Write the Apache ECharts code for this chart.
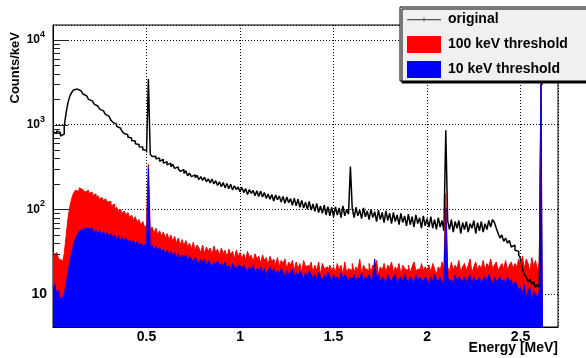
<!DOCTYPE html>
<html>
<head>
<meta charset="utf-8">
<script src="https://cdn.jsdelivr.net/npm/echarts@6/dist/echarts.min.js"></script>
<style>html,body{margin:0;padding:0;background:#fff}#c{width:586px;height:358px}</style>
</head>
<body>
<div id="c"></div>
<script>
// Histogram bin width in MeV (bin i spans [i*BIN, (i+1)*BIN])
const BIN = 0.01;
const seriesNames = ['original', '100 keV threshold', '10 keV threshold'];

// Counts/keV per 10 keV bin, 0.00 .. 2.61 MeV
const original = [
 820, 790, 845, 805, 735, 775, 960, 1380, 1820, 2170,
 2400, 2560, 2630, 2590, 2510, 2410, 2300, 2190, 2080, 1990,
 1910, 1810, 1750, 1660, 1590, 1525, 1455, 1385, 1325, 1255,
 1195, 1125, 1065, 1015, 955, 915, 870, 830, 785, 760,
 715, 695, 650, 640, 595, 585, 550, 545, 505, 500,
 470, 3450, 450, 420, 425, 395, 405, 370, 390, 352,
 365, 335, 352, 318, 340, 305, 318, 300, 282, 295,
 265, 285, 250, 268, 244, 256, 236, 252, 225, 244,
 220, 240, 212, 230, 205, 228, 200, 218, 192, 212,
 185, 208, 180, 202, 176, 198, 170, 190, 172, 184,
 162, 182, 158, 176, 150, 172, 155, 168, 145, 166,
 142, 164, 140, 158, 135, 152, 132, 150, 126, 148,
 130, 144, 122, 142, 118, 140, 120, 134, 112, 136,
 110, 132, 106, 128, 104, 122, 100, 124, 98, 116,
 95, 118, 92, 110, 90, 112, 86, 108, 84, 106,
 82, 108, 86, 104, 80, 110, 84, 100, 88, 320,
 102, 80, 106, 84, 98, 78, 104, 82, 96, 76,
 100, 80, 94, 72, 98, 76, 92, 70, 96, 74,
 90, 68, 92, 72, 86, 66, 90, 70, 84, 64,
 88, 66, 82, 62, 86, 68, 80, 60, 84, 64,
 78, 62, 82, 60, 76, 58, 80, 62, 74, 56,
 860, 74, 58, 76, 54, 72, 60, 74, 52, 70,
 58, 72, 54, 68, 60, 74, 52, 70, 56, 72,
 54, 68, 58, 74, 62, 76, 70, 60, 52, 46,
 50, 42, 46, 40, 43, 36, 38, 33, 32, 29,
 26, 20, 17, 16, 14, 15, 13, 14, 12, 13,
 12, 3000
];

const thr100 = [
 32, 29, 31, 26, 25, 23, 30, 48, 78, 108,
 135, 156, 168, 164, 180, 171, 176, 160, 168, 154,
 160, 146, 152, 138, 146, 130, 140, 126, 134, 122,
 124, 110, 116, 100, 106, 95, 101, 90, 96, 86,
 92, 80, 86, 74, 82, 70, 76, 65, 72, 61,
 66, 340, 58, 62, 52, 60, 50, 56, 48, 54,
 46, 52, 44, 50, 42, 48, 40, 46, 38, 44,
 37, 43, 36, 40, 34, 41, 33, 38, 35, 31,
 38, 30, 36, 32, 35, 29, 37, 31, 34, 28,
 35, 30, 33, 27, 34, 29, 32, 26, 33, 28,
 31, 26, 30, 25, 32, 27, 29, 24, 30, 26,
 28, 23, 29, 25, 27, 22, 28, 24, 26, 22,
 27, 21, 25, 23, 26, 20, 24, 22, 25, 19,
 24, 20, 23, 18, 25, 21, 22, 19, 24, 18,
 22, 19, 24, 17, 23, 20, 21, 18, 22, 19,
 21, 18, 23, 19, 22, 17, 24, 18, 20, 19,
 23, 18, 21, 19, 26, 17, 22, 20, 19, 23,
 18, 22, 20, 25, 17, 21, 19, 23, 18, 22,
 20, 24, 18, 21, 19, 23, 17, 22, 20, 19,
 22, 18, 21, 24, 19, 20, 17, 23, 19, 21,
 19, 22, 18, 23, 20, 17, 21, 19, 24, 20,
 155, 21, 18, 24, 19, 22, 20, 25, 18, 21,
 23, 19, 22, 26, 18, 21, 24, 19, 22, 20,
 25, 19, 23, 21, 26, 20, 22, 24, 19, 21,
 23, 20, 25, 19, 22, 24, 20, 23, 21, 26,
 22, 28, 20, 26, 23, 18, 27, 21, 25, 19,
 24, 3000
];

const thr10 = [
 12, 13, 10, 11, 8.5, 9, 10, 13, 18, 24,
 31, 38, 45, 50, 55, 58, 56, 60, 57, 59,
 55, 60, 53, 57, 52, 56, 50, 55, 49, 53,
 47, 52, 46, 50, 44, 49, 43, 47, 42, 46,
 41, 44, 40, 43, 38, 42, 37, 40, 36, 39,
 35, 313, 34, 38, 33, 37, 32, 36, 31, 34,
 30, 33, 29, 32, 28, 31, 27, 30, 26, 29,
 27, 29, 25, 28, 26, 24, 27, 25, 23, 26,
 24, 26, 22, 25, 23, 21, 24, 22, 25, 21,
 23, 21, 24, 20, 22, 19, 23, 21, 20, 22,
 21, 19, 22, 20, 18, 21, 19, 22, 18, 20,
 19, 21, 18, 20, 17, 19, 21, 18, 20, 17,
 19, 17, 20, 18, 16, 19, 17, 18, 20, 16,
 18, 16, 19, 17, 15, 18, 16, 19, 17, 15,
 17, 15, 18, 16, 14, 17, 15, 18, 16, 14,
 17, 15, 16, 14, 18, 15, 17, 16, 14, 16,
 15, 17, 14, 16, 15, 18, 14, 16, 15, 17,
 14, 16, 26, 15, 17, 14, 16, 15, 13, 17,
 15, 14, 16, 17, 13, 15, 16, 14, 17, 15,
 14, 16, 15, 13, 17, 14, 16, 15, 14, 16,
 15, 13, 16, 14, 17, 15, 14, 16, 13, 15,
 103, 16, 14, 15, 13, 17, 14, 16, 15, 14,
 16, 14, 15, 17, 13, 16, 14, 15, 16, 13,
 15, 16, 14, 17, 15, 13, 16, 14, 15, 16,
 14, 15, 13, 16, 14, 15, 12, 14, 13, 11,
 12, 10, 13, 9, 11, 12, 8, 11, 10, 9,
 11, 12000
];

// axis tick definitions
const xTickLabels = ['0.5', '1', '1.5', '2', '2.5'];
const yMajorTicks = [100, 1000, 10000];
const yMinorTicks = [30, 40, 50, 60, 70, 80, 90,
  200, 300, 400, 500, 600, 700, 800, 900, 2000, 3000, 4000, 5000, 6000, 7000, 8000, 9000];

const FONT = '"Liberation Sans", Arial, Helvetica, sans-serif';

function toSteps(vals) {
  const pts = vals.map((v, i) => [+(i * BIN).toFixed(4), v]);
  pts.push([+(vals.length * BIN).toFixed(4), vals[vals.length - 1]]);
  return pts;
}

const chart = echarts.init(document.getElementById('c'), null, {renderer: 'canvas'});
chart.setOption({
  animation: false,
  backgroundColor: '#fff',
  grid: {left: 53, right: 28, top: 25, bottom: 31, show: true, borderColor: '#000', borderWidth: 1,
         containLabel: false, outerBoundsMode: 'none'},
  xAxis: {
    type: 'value', min: 0, max: 2.7, interval: 0.5,
    axisLine: {lineStyle: {color: '#000', width: 1}},
    axisTick: {show: false},
    splitLine: {show: true, lineStyle: {color: '#000', type: [1, 2], width: 1}},
    axisLabel: {
      margin: 3, color: '#000', fontFamily: FONT, fontWeight: 'bold', fontSize: 14,
      showMinLabel: false, showMaxLabel: false,
      formatter: v => { const s = String(+v.toFixed(2)); return xTickLabels.indexOf(s) >= 0 ? s : ''; }
    }
  },
  yAxis: {
    type: 'log', logBase: 10, min: 4.1, max: 15000,
    axisLine: {show: true, lineStyle: {color: '#000', width: 1}},
    axisTick: {show: false},
    splitLine: {show: true, lineStyle: {color: '#000', type: [1, 2], width: 1}},
    axisLabel: {
      margin: 6, color: '#000', fontFamily: FONT, fontWeight: 'bold',
      showMinLabel: false, showMaxLabel: false,
      formatter: v => {
        const k = Math.round(Math.log10(v));
        if (Math.abs(v - Math.pow(10, k)) > 1e-6 * v) return '';
        if (k === 1) return '{p|10}';
        return '{b|10}{s|' + k + '}';
      },
      rich: {
        p: {fontSize: 14, fontWeight: 'bold', fontFamily: FONT, color: '#000'},
        b: {fontSize: 12, fontWeight: 'bold', fontFamily: FONT, color: '#000', lineHeight: 20},
        s: {fontSize: 9, fontWeight: 'bold', fontFamily: FONT, color: '#000', verticalAlign: 'top', padding: [0, 2, 0, 0]}
      }
    }
  },
  legend: {
    orient: 'vertical', left: 400, top: 7, itemWidth: 34, itemHeight: 17, itemGap: 8,
    padding: [4, 40, 3, 7], backgroundColor: '#f0f0f0', borderColor: '#000', borderWidth: 1,
    shadowColor: '#000', shadowOffsetX: 2, shadowOffsetY: 2, shadowBlur: 0,
    selectedMode: false,
    textStyle: {fontFamily: FONT, fontWeight: 'bold', fontSize: 14, color: '#000', padding: [0, 0, 0, 2]},
    data: [
      {name: seriesNames[0], icon: 'path://M0,0L0.01,0L0.01,0.01ZM0,8L34,8L34,9.2L0,9.2ZM16.5,6.5L17.5,6.5L17.5,10.5L16.5,10.5ZM34,17L33.99,17L33.99,16.99Z',
       itemStyle: {color: '#555', borderWidth: 0}},
      {name: seriesNames[1], icon: 'rect'},
      {name: seriesNames[2], icon: 'rect'}
    ]
  },
  series: [
    {
      type: 'line', name: seriesNames[0], step: 'end', symbol: 'none', showSymbol: false,
      data: toSteps(original), color: '#000',
      lineStyle: {color: '#000', width: 1.5, join: 'bevel'}
    },
    {
      type: 'line', name: seriesNames[1], step: 'end', symbol: 'none', showSymbol: false,
      data: toSteps(thr100), color: '#ff0000',
      lineStyle: {color: '#ff0000', width: 1, join: 'bevel'},
      areaStyle: {color: '#ff0000', opacity: 1, origin: 'start'}
    },
    {
      type: 'line', name: seriesNames[2], step: 'end', symbol: 'none', showSymbol: false,
      data: toSteps(thr10), color: '#0000ff',
      lineStyle: {color: '#0000ff', width: 1, join: 'bevel'},
      areaStyle: {color: '#0000ff', opacity: 1, origin: 'start'}
    }
  ]
});

// All graphic elements in one call: axis titles plus ROOT-style inside y ticks,
// positioned through the axis scale.
const x0 = chart.convertToPixel({xAxisIndex: 0}, 0);
const gfx = [
  {
    id: 'yname', type: 'text', x: 15, y: 32, rotation: Math.PI / 2, z: 100,
    style: {text: 'Counts/keV', font: 'bold 13px ' + FONT, fill: '#000', textAlign: 'right', textVerticalAlign: 'middle'}
  },
  {
    id: 'xname', type: 'text', x: 558, y: 348, z: 100,
    style: {text: 'Energy [MeV]', font: 'bold 14px ' + FONT, fill: '#000', textAlign: 'right', textVerticalAlign: 'middle'}
  }
];
function addTicks(vals, len, tag) {
  vals.forEach((v, i) => {
    const y = Math.round(chart.convertToPixel({yAxisIndex: 0}, v)) + 0.5;
    gfx.push({id: tag + i, type: 'line', z: 100,
      shape: {x1: x0, y1: y, x2: x0 + len, y2: y}, style: {stroke: '#222', lineWidth: 1}});
  });
}
addTicks(yMajorTicks, 15, 'maj');
addTicks(yMinorTicks, 7, 'min');
chart.setOption({graphic: gfx});
</script>
</body>
</html>
